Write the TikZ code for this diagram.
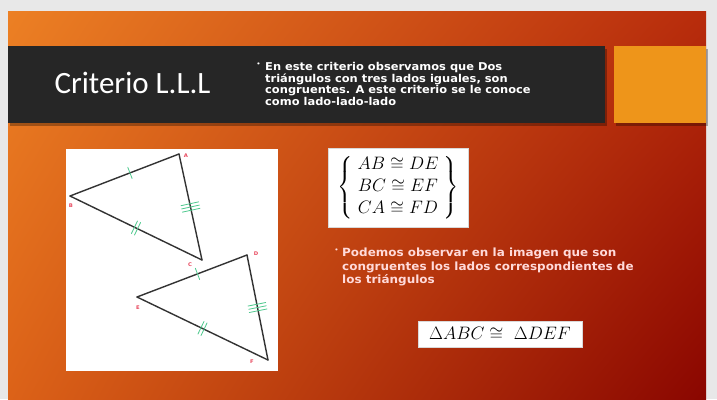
\RequirePackage{fix-cm}
\documentclass[tikz,border=0pt]{standalone}
\usepackage{amsmath}
\usepackage{fontspec}
\usetikzlibrary{positioning,shadows,shadings,decorations.markings}

\newfontfamily\titlefont{Carlito}
\newfontfamily\bodyfont[FakeStretch=1.06]{DejaVu Sans}

\definecolor{pagegray}{HTML}{E8E8E8}
\definecolor{bandgray}{HTML}{262626}
\definecolor{accentorange}{HTML}{EE951A}
\definecolor{tickgreen}{HTML}{4FC98E}
\definecolor{labelred}{HTML}{E8485E}
\definecolor{notepink}{HTML}{FFDADA}
\definecolor{bgul}{RGB}{236,128,36}
\definecolor{bgur}{RGB}{184,44,12}
\definecolor{bgll}{RGB}{220,98,24}
\definecolor{bglr}{RGB}{138,6,0}

\begin{document}
\begin{tikzpicture}[
  x=1pt, y=-1pt,
  panel/.style={drop shadow={shadow xshift=2pt, shadow yshift=-3pt, opacity=.3, fill=black}},
  side/.style={draw=black!80, line width=1.4pt, line cap=round},
  tick/.style={draw=tickgreen, line width=.8pt},
  onetick/.style={postaction={decorate, decoration={markings, mark=at position .45 with {\draw[tick] (0,-6) -- (0,6);}}}},
  twoticks/.style={postaction={decorate, decoration={markings, mark=at position .5 with {\draw[tick] (-1.7,-7) -- (-1.7,7) (1.7,-7) -- (1.7,7);}}}},
  threeticks/.style={postaction={decorate, decoration={markings, mark=at position .5 with {\draw[tick] (-3.3,-9) -- (-3.3,9) (0,-9) -- (0,9) (3.3,-9) -- (3.3,9);}}}},
  vlabel/.style={text=labelred, font=\bodyfont\bfseries\fontsize{5}{5}\selectfont, inner sep=0},
  mathbox/.style={fill=white, draw=black!15, inner sep=0}
]
\useasboundingbox (0,0) rectangle (717,399);
\fill[pagegray] (0,0) rectangle (717,399);

% slide background
\shade[upper left=bgul, upper right=bgur, lower left=bgll, lower right=bglr]
  (8,11) rectangle (706,399);

% title band
\fill[bandgray, panel] (8,46) rectangle (605,123);
\fill[accentorange, panel] (614,46) rectangle (706,123);
\node[anchor=west, text=white, font=\titlefont\fontsize{31}{33}\selectfont] (title) at (51,83) {Criterio L.L.L};
\node[anchor=north west, inner sep=0, text=white, align=left,
      font=\bodyfont\bfseries\fontsize{10.8}{10.3}\selectfont] (intro) at (265,62)
  {En este criterio observamos que Dos\\ triángulos con tres lados iguales, son\\
   congruentes. A este criterio se le conoce\\ como lado-lado-lado};
\node[anchor=north east, inner sep=0, text=white, font=\bodyfont\fontsize{7}{7}\selectfont]
  at ([xshift=-4pt, yshift=-1pt]intro.north west) {•};

% picture of the triangles
\node[fill=white, minimum width=212pt, minimum height=222pt, inner sep=0] (photo) at (172,260) {};
\coordinate (A) at (179,154);
\coordinate (B) at (70,196);
\coordinate (C) at (202,260);
\coordinate (D) at (247,255);
\coordinate (E) at (137,297);
\coordinate (F) at (268,360);
\draw[side, onetick] (A) -- (B);
\draw[side, twoticks] (B) -- (C);
\draw[side, threeticks] (C) -- (A);
\draw[side, onetick] (D) -- (E);
\draw[side, twoticks] (E) -- (F);
\draw[side, threeticks] (F) -- (D);
\node[vlabel] (labA) at (186,156) {A};
\node[vlabel] (labB) at (71,206) {B};
\node[vlabel] (labC) at (190,265) {C};
\node[vlabel] (labD) at (256,254) {D};
\node[vlabel] (labE) at (138,308) {E};
\node[vlabel] (labF) at (252,362) {F};

% congruences
\node[mathbox, minimum width=140pt, minimum height=79pt] (eqs) at (398,187.5)
  {\fontsize{18}{22}\selectfont$\left\{\begin{array}{c} AB\cong DE\\ BC\cong EF\\ CA\cong FD \end{array}\right\}$};
\node[anchor=north west, inner sep=0, text=notepink, align=left,
      font=\bodyfont\bfseries\fontsize{11.3}{13.5}\selectfont] (note) at (342,248)
  {Podemos observar en la imagen que son\\ congruentes los lados correspondientes de\\ los triángulos};
\node[anchor=north east, inner sep=0, text=notepink, font=\bodyfont\fontsize{7}{7}\selectfont]
  at ([xshift=-3pt, yshift=-1pt]note.north west) {•};
\node[mathbox, minimum width=164pt, minimum height=26pt] (result) at (500,334)
  {\fontsize{18}{20}\selectfont$\Delta ABC\cong\ \Delta DEF$};
\end{tikzpicture}
\end{document}
